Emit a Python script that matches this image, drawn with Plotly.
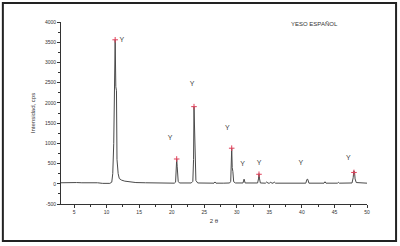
import plotly.graph_objects as go

# XRD pattern (2-theta, intensity in cps)
two_theta = [3.0, 3.8, 4.6, 5.4, 6.2, 7.0, 7.8, 8.6, 9.4, 10.0, 10.5, 10.8, 10.95, 11.1, 11.22, 11.32,
             11.42, 11.52, 11.6, 11.66, 11.78, 11.95, 12.3, 12.8, 13.5, 14.5, 16.0, 17.5, 19.0, 20.4,
             20.6, 20.7, 20.77, 20.85, 20.92, 21.0, 21.2, 22.0, 23.0, 23.25, 23.36, 23.43, 23.52,
             23.62, 23.72, 24.0, 25.5, 26.5, 26.65, 26.8, 28.0, 28.9, 29.07, 29.16, 29.22, 29.3, 29.4,
             29.52, 29.8, 30.95, 31.12, 31.28, 33.2, 33.33, 33.41, 33.5, 33.62, 34.4, 34.6, 34.8, 35.05,
             35.2, 35.4, 35.6, 35.76, 35.95, 37.0, 38.5, 40.6, 40.78, 40.9, 41.08, 42.5, 43.4, 43.55,
             43.7, 45.45, 45.6, 45.75, 47.0, 47.7, 47.88, 47.97, 48.08, 48.17, 48.35, 49.2, 50.0]
intensity = [25, 30, 25, 30, 25, 28, 20, 25, 10, 5, 10, 40, 250, 1000, 2300, 3560,
             2400, 2300, 600, 400, 250, 130, 90, 65, 45, 30, 25, 20, 18, 15,
             40, 300, 613, 420, 300, 60, 20, 15, 20, 60, 600, 1907, 1000,
             400, 80, 20, 15, 15, 45, 15, 15, 20, 60, 400, 880, 400, 300,
             50, 20, 20, 115, 20, 20, 120, 250, 120, 20, 15, 45, 15, 15,
             40, 15, 15, 45, 15, 15, 15, 15, 110, 110, 15, 15, 15, 50,
             15, 15, 35, 15, 15, 20, 150, 320, 300, 120, 30, 15, 15]

# Peaks marked with "+" (gypsum reflections)
marked_x = [11.32, 20.77, 23.43, 29.22, 33.41, 48.0]
marked_y = [3560, 613, 1907, 880, 235, 280]

# "Y" phase labels
label_x = [12.33, 19.74, 23.12, 28.54, 30.9, 33.41, 39.82, 47.13]
label_y = [3540, 1125, 2468, 1372, 482, 507, 507, 630]
label_text = ["Y"] * len(label_x)

x_ticks = [5, 10, 15, 20, 25, 30, 35, 40, 45, 50]
y_ticks = [-500, 0, 500, 1000, 1500, 2000, 2500, 3000, 3500, 4000]

FONT = "Liberation Sans"

fig = go.Figure()
fig.add_trace(go.Scatter(x=two_theta, y=intensity, mode="lines",
                         line=dict(color="#4a4a4a", width=1), showlegend=False,
                         hoverinfo="skip"))
fig.add_trace(go.Scatter(x=marked_x, y=marked_y, mode="markers",
                         marker=dict(symbol="cross-thin", size=4,
                                     line=dict(color="#e0405a", width=1)),
                         showlegend=False))
fig.add_trace(go.Scatter(x=label_x, y=label_y, mode="text", text=label_text,
                         textfont=dict(family=FONT, size=7, color="#444"),
                         showlegend=False))

fig.update_layout(
    width=400, height=246,
    margin=dict(l=61, r=33, t=22, b=42, autoexpand=False),
    paper_bgcolor="white", plot_bgcolor="white",
    font=dict(family=FONT, size=5, color="#333"),
    xaxis=dict(range=[3, 50], tickvals=x_ticks, ticktext=[str(v) for v in x_ticks],
               automargin=False,
               showline=True, linecolor="#333", linewidth=1, ticks="outside",
               ticklen=3, tickcolor="#333", showgrid=False, zeroline=False,
               tickfont=dict(size=5, color="#333"),
               minor=dict(dtick=2.5, ticks="outside", ticklen=2, tickcolor="#333", showgrid=False),
               title=dict(text="2 θ", font=dict(size=6, color="#333"), standoff=4)),
    yaxis=dict(range=[-500, 4000], tickvals=y_ticks, ticktext=[str(v) for v in y_ticks],
               automargin=False,
               showline=True, linecolor="#333", linewidth=1, ticks="outside",
               ticklen=3, tickcolor="#333", showgrid=False, zeroline=False,
               tickfont=dict(size=5, color="#333"),
               minor=dict(dtick=250, ticks="outside", ticklen=2, tickcolor="#333", showgrid=False),
               title=dict(text="Intensidad, cps", font=dict(size=6, color="#333"), standoff=8)),
    annotations=[dict(text="YESO ESPAÑOL", xref="paper", yref="paper", x=0.83, y=0.989,
                      xanchor="center", yanchor="middle",
                      showarrow=False, font=dict(family=FONT, size=6, color="#333"))],
    shapes=[dict(type="rect", xref="paper", yref="paper", x0=-0.19, x1=1.095,
                 y0=-0.203, y1=1.104, line=dict(color="#222", width=2))],
)

fig.write_html("out.html", config={"displayModeBar": False},
               post_script="document.body.style.margin='0';")
